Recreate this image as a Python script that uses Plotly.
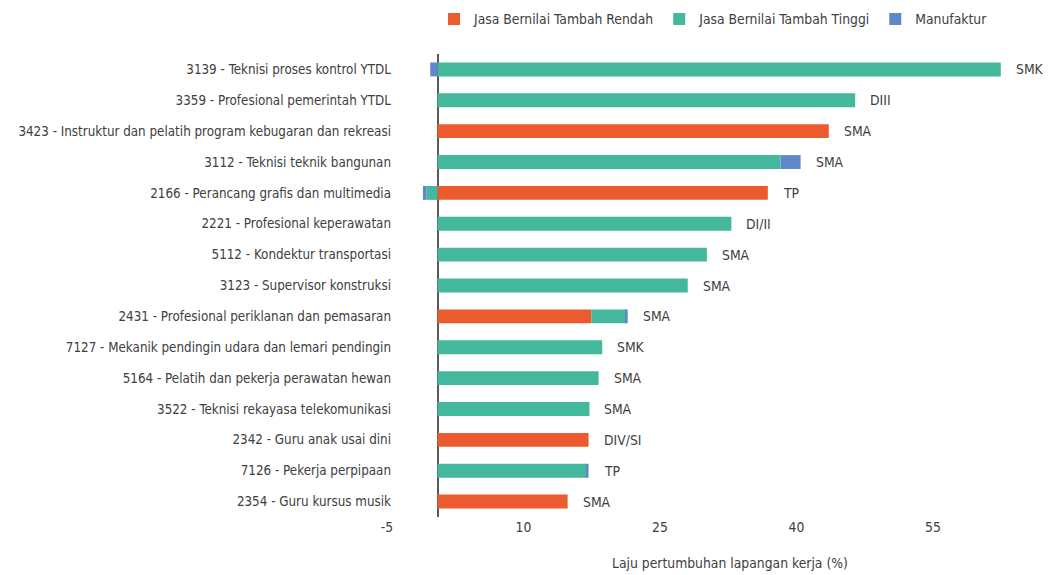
import plotly.graph_objects as go

categories = [
    "3139 - Teknisi proses kontrol YTDL",
    "3359 - Profesional pemerintah YTDL",
    "3423 - Instruktur dan pelatih program kebugaran dan rekreasi",
    "3112 - Teknisi teknik bangunan",
    "2166 - Perancang grafis dan multimedia",
    "2221 - Profesional keperawatan",
    "5112 - Kondektur transportasi",
    "3123 - Supervisor konstruksi",
    "2431 - Profesional periklanan dan pemasaran",
    "7127 - Mekanik pendingin udara dan lemari pendingin",
    "5164 - Pelatih dan pekerja perawatan hewan",
    "3522 - Teknisi rekayasa telekomunikasi",
    "2342 - Guru anak usai dini",
    "7126 - Pekerja perpipaan",
    "2354 - Guru kursus musik",
]
jasa_rendah = [0, 0, 43.0, 0, 36.3, 0, 0, 0, 16.9, 0, 0, 0, 16.6, 0, 14.3]
jasa_tinggi = [61.9, 45.9, 0, 37.7, -1.2, 32.3, 29.6, 27.5, 3.8, 18.1, 17.7, 16.7, 0, 16.4, 0]
manufaktur = [-0.8, 0, 0, 2.2, -0.4, 0, 0, 0, 0.2, 0, 0, 0, 0, 0.2, 0]
pendidikan = ["SMK", "DIII", "SMA", "SMA", "TP", "DI/II", "SMA", "SMA", "SMA",
              "SMK", "SMA", "SMA", "DIV/SI", "TP", "SMA"]
x_ticks = [-5, 10, 25, 40, 55]
x_ticktext = ["-5", "10", "25", "40", "55"]

FONT = "DejaVu Sans Condensed, Liberation Sans Narrow, sans-serif"
FS = 13.8
FS_Y = 13.3
TXT = "#404040"
C_RENDAH = "#EB5B2D"
C_TINGGI = "#44B89C"
C_MANU = "#5F88C9"

OFF = 8  # page body margin offset
W, H = 1052 - OFF, 575 - OFF
L, R = 392 - OFF, 1029 - OFF
T, B = 54 - OFF, 517 - OFF
XMIN, XMAX = -5, 65

fig = go.Figure()
for name, vals, col in [("Jasa Bernilai Tambah Rendah", jasa_rendah, C_RENDAH),
                        ("Jasa Bernilai Tambah Tinggi", jasa_tinggi, C_TINGGI),
                        ("Manufaktur", manufaktur, C_MANU)]:
    fig.add_trace(go.Bar(y=categories, x=vals, name=name, orientation="h",
                         marker=dict(color=col, line=dict(width=0)),
                         hoverinfo="x+y+name"))

for cat, a, b, c, lab in zip(categories, jasa_rendah, jasa_tinggi, manufaktur, pendidikan):
    tot = sum(v for v in (a, b, c) if v > 0)
    fig.add_annotation(x=tot, y=cat, xref="x", yref="y", text=lab, showarrow=False,
                       xanchor="left", xshift=13, font=dict(family=FONT, size=FS, color=TXT))

fig.add_annotation(x=(730 - OFF - L) / (R - L), y=-(563 - OFF - B) / (B - T),
                   xref="paper", yref="paper",
                   text="Laju pertumbuhan lapangan kerja (%)", showarrow=False,
                   xanchor="center", yanchor="middle",
                   font=dict(family=FONT, size=FS, color=TXT))

fig.update_layout(
    width=W, height=H,
    margin=dict(l=L, r=W - R, t=T, b=H - B, pad=0, autoexpand=False),
    barmode="relative", bargap=0.55,
    plot_bgcolor="white", paper_bgcolor="white",
    font=dict(family=FONT, size=FS, color=TXT),
    showlegend=True,
    legend=dict(orientation="h", x=(434 - OFF) / W, xref="container",
                y=1 - (19 - OFF) / H, yref="container",
                yanchor="middle", xanchor="left", traceorder="normal",
                font=dict(family=FONT, size=FS, color=TXT), itemwidth=30,
                bgcolor="rgba(0,0,0,0)"),
    xaxis=dict(range=[XMIN, XMAX], tickvals=x_ticks, ticktext=x_ticktext, showgrid=False,
               zeroline=True, zerolinecolor="#595959", zerolinewidth=1.5,
               showline=False, ticks="", ticklabelshift=-5, automargin=False,
               tickfont=dict(family=FONT, size=FS, color=TXT), fixedrange=True),
    yaxis=dict(autorange="reversed", showgrid=False, showline=False, ticks="",
               automargin=False,
               tickfont=dict(family=FONT, size=FS_Y, color=TXT), fixedrange=True),
)

fig.write_html("out.html")
